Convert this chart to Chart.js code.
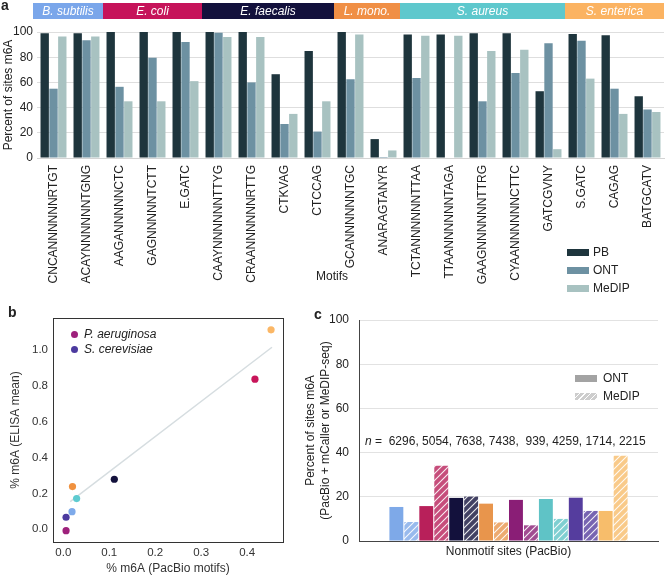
<!DOCTYPE html>
<html>
<head>
<meta charset="utf-8">
<script src="https://cdn.jsdelivr.net/npm/chart.js@4.4.1/dist/chart.umd.min.js"></script>
<style>
  body { margin: 0; width: 668px; height: 576px; background: #fff; position: relative; overflow: hidden;
         font-family: "Liberation Sans", Arial, sans-serif; color: #222; }
  canvas { position: absolute; }
  .txt { position: absolute; font-size: 12px; white-space: pre; line-height: 14px; }
  .panel { position: absolute; font-weight: bold; font-size: 14px; }
  .box { position: absolute; width: 22px; height: 7px; }
</style>
</head>
<body>
<canvas id="chartA" width="668" height="300" style="left:0;top:0"></canvas>
<canvas id="chartB" width="300" height="276" style="left:0;top:300px"></canvas>
<canvas id="chartC" width="368" height="276" style="left:300px;top:300px"></canvas>

<div class="panel" style="left:1px;top:-3px">a</div>
<div class="panel" style="left:8px;top:304px">b</div>
<div class="panel" style="left:314px;top:306px">c</div>
<div class="txt" style="left:316px;top:269px">Motifs</div>

<div id="legendA"></div>
<div id="legendB"></div>
<div id="legendC"></div>
<div id="nText" class="txt" style="left:365px;top:434px"></div>

<script>
// ---- panel a: motif methylation ----
const motifs = [
  "CNCANNNNNNRTGT", "ACAYNNNNNNTGNG", "AAGANNNNNCTC", "GAGNNNNNTCTT", "E.GATC",
  "CAAYNNNNNNTTYG", "CRAANNNNNNRTTG", "CTKVAG", "CTCCAG", "GCANNNNNNTGC",
  "ANARAGTANYR", "TCTANNNNNNTTAA", "TTAANNNNNNTAGA", "GAAGNNNNNNTTRG", "CYAANNNNNNCTTC",
  "GATCGVNY", "S.GATC", "CAGAG", "BATGCATV"
];
const pbValues =    [99, 99, 100, 100, 100, 100, 100, 66.5, 85, 100, 15, 98, 98, 99, 99, 53, 98.5, 97.5, 49];
const ontValues =   [55, 93.5, 56.5, 79.5, 92, 99.5, 60, 27, 21, 62.5, 0.8, 63.5, 0, 45, 67.5, 91, 93, 55, 38.5];
const medipValues = [96.5, 96.5, 45, 45, 61, 96, 96, 35, 45, 98, 6, 97, 97, 85, 86, 7, 63, 35, 36.5];
const bandNames = ["B. subtilis", "E. coli", "E. faecalis", "L. mono.", "S. aureus", "S. enterica"];
const bandSizes = [2, 3, 4, 2, 5, 3];
const bandColors = ["#7aa6ea", "#c6135a", "#13113c", "#f08f45", "#5ec8cd", "#fbb362"];
const methodColors = ["#1e353d", "#6d91a2", "#a8c2c1"];

// ---- panel b: ELISA vs PacBio ----
const speciesB = ["S. enterica", "E. coli", "E. faecalis", "L. mono.", "S. aureus", "B. subtilis", "S. cerevisiae", "P. aeruginosa"];
const pacbioX = [0.452, 0.417, 0.111, 0.020, 0.029, 0.019, 0.006, 0.006];
const elisaY = [1.112, 0.837, 0.279, 0.238, 0.171, 0.098, 0.067, -0.008];
const colorsB = ["#fbb766", "#c8155a", "#13113c", "#f0913f", "#5ecbd0", "#7eaaea", "#4c3a9f", "#9e217c"];
const fitX = [0.015, 0.454];
const fitY = [0.154, 1.015];

// ---- panel c: nonmotif sites ----
const speciesC = ["B. subtilis", "E. coli", "E. faecalis", "L. mono.", "P. aeruginosa", "S. aureus", "S. cerevisiae", "S. enterica"];
const ontC = [15.4, 15.8, 19.5, 16.9, 18.6, 19.0, 19.6, 13.6];
const medipC = [8.6, 34.0, 20.1, 8.4, 7.1, 10.0, 13.6, 38.6];
const colorsC = ["#7ea9e8", "#b8205a", "#13113c", "#e8954c", "#8a1e76", "#5fc3c6", "#553d9e", "#f7bd6b"];
const nCounts = [6296, 5054, 7638, 7438, 939, 4259, 1714, 2215];

Chart.defaults.font.family = "'Liberation Sans', Arial, sans-serif";
Chart.defaults.font.size = 12;
Chart.defaults.color = "#222";
Chart.defaults.animation = false;

// species bands above panel a
const bandPlugin = {
  id: "bands",
  afterDraw(chart) {
    const x = chart.scales.x;
    const ctx = chart.ctx;
    const step = x.width / motifs.length;
    let start = 0;
    ctx.save();
    bandNames.forEach((name, i) => {
      let left = x.getPixelForValue(start) - step / 2;
      const right = x.getPixelForValue(start + bandSizes[i] - 1) + step / 2;
      if (i === 0) left -= 4;
      ctx.fillStyle = bandColors[i];
      ctx.fillRect(left, 3, right - left, 16);
      ctx.fillStyle = "#fff";
      ctx.font = "italic 12px 'Liberation Sans', Arial";
      ctx.textAlign = "center";
      ctx.textBaseline = "middle";
      ctx.fillText(name, (left + right) / 2, 11.5);
      start += bandSizes[i];
    });
    ctx.restore();
  }
};

new Chart(document.getElementById("chartA"), {
  type: "bar",
  data: {
    labels: motifs,
    datasets: [
      { label: "PB", data: pbValues, backgroundColor: methodColors[0] },
      { label: "ONT", data: ontValues, backgroundColor: methodColors[1] },
      { label: "MeDIP", data: medipValues, backgroundColor: methodColors[2] }
    ]
  },
  options: {
    responsive: false,
    layout: { padding: { top: 32, right: 4, left: 0, bottom: 0 } },
    datasets: { bar: { categoryPercentage: 0.8, barPercentage: 0.95 } },
    plugins: { legend: { display: false }, tooltip: { enabled: false } },
    scales: {
      x: {
        grid: { display: false, drawTicks: false },
        border: { color: "#d4d4d4" },
        ticks: { minRotation: 90, maxRotation: 90, padding: 7, autoSkip: false, font: { size: 12 } },
        afterFit(axis) { axis.height = 142; axis.paddingLeft = 0; axis.paddingRight = 0; }
      },
      y: {
        min: 0, max: 100,
        ticks: { stepSize: 20, padding: 4, font: { size: 12 } },
        grid: { color: "#dedede", drawTicks: false },
        border: { display: false },
        title: { display: true, text: "Percent of sites m6A", padding: { top: 1, bottom: 0 }, font: { size: 12 } },
        afterFit(axis) { axis.width = 37; }
      }
    }
  },
  plugins: [bandPlugin]
});

// frame around panel b
const framePlugin = {
  id: "frame",
  afterDraw(chart) {
    const a = chart.chartArea;
    const ctx = chart.ctx;
    ctx.save();
    ctx.strokeStyle = "#333";
    ctx.lineWidth = 1;
    ctx.strokeRect(Math.round(a.left) + 0.5, Math.round(a.top) + 0.5, Math.round(a.right - a.left), Math.round(a.bottom - a.top));
    ctx.restore();
  }
};

new Chart(document.getElementById("chartB"), {
  type: "scatter",
  data: {
    datasets: [
      {
        label: "species",
        data: pacbioX.map((x, i) => ({ x, y: elisaY[i] })),
        pointBackgroundColor: colorsB,
        pointBorderWidth: 0,
        pointRadius: 3.6
      },
      {
        label: "fit",
        data: fitX.map((x, i) => ({ x, y: fitY[i] })),
        showLine: true,
        pointRadius: 0,
        borderColor: "#d6dde0",
        borderWidth: 1.5
      }
    ]
  },
  options: {
    responsive: false,
    layout: { padding: { top: 18, right: 17, left: 0, bottom: 0 } },
    plugins: { legend: { display: false }, tooltip: { enabled: false } },
    scales: {
      x: {
        min: -0.0224, max: 0.478,
        ticks: { stepSize: 0.1, includeBounds: false, padding: 4, callback: v => v.toFixed(1), font: { size: 11.5 }, color: "#333" },
        grid: { display: false, drawTicks: false },
        border: { display: false },
        title: { display: true, text: "% m6A (PacBio motifs)", padding: { top: 0, bottom: 0 }, font: { size: 12 }, color: "#333" },
        afterFit(axis) { axis.height = 34; }
      },
      y: {
        min: -0.071, max: 1.178,
        ticks: { stepSize: 0.2, includeBounds: false, padding: 5, callback: v => v.toFixed(1), font: { size: 11.5 }, color: "#333" },
        grid: { display: false, drawTicks: false },
        border: { display: false },
        title: { display: true, text: "% m6A (ELISA mean)", padding: { top: 8, bottom: 0 }, font: { size: 12 }, color: "#333" },
        afterFit(axis) { axis.width = 53; }
      }
    }
  },
  plugins: [framePlugin]
});

// panel c
const ctxC = document.getElementById("chartC").getContext("2d");
function lighten(hex, f) {
  const n = parseInt(hex.slice(1), 16);
  const r = (n >> 16) & 255, g = (n >> 8) & 255, b = n & 255;
  const m = v => Math.round(v + (255 - v) * f);
  return `rgb(${m(r)},${m(g)},${m(b)})`;
}
function hatch(color) {
  const c = document.createElement("canvas");
  c.width = 7; c.height = 7;
  const g = c.getContext("2d");
  g.fillStyle = lighten(color, 0.2);
  g.fillRect(0, 0, 7, 7);
  g.strokeStyle = "rgba(255,255,255,0.9)";
  g.lineWidth = 1.1;
  g.beginPath();
  g.moveTo(-1, 8); g.lineTo(8, -1);
  g.moveTo(-1, 1); g.lineTo(1, -1);
  g.moveTo(6, 8); g.lineTo(8, 6);
  g.stroke();
  return ctxC.createPattern(c, "repeat");
}

const datasetsC = [];
speciesC.forEach((name, i) => {
  datasetsC.push({ label: name + " ONT", data: [ontC[i]], backgroundColor: colorsC[i] });
  datasetsC.push({ label: name + " MeDIP", data: [medipC[i]], backgroundColor: hatch(colorsC[i]) });
});

new Chart(ctxC, {
  type: "bar",
  data: { labels: ["Nonmotif sites (PacBio)"], datasets: datasetsC },
  options: {
    responsive: false,
    layout: { padding: { top: 20, right: 10, left: 0, bottom: 0 } },
    datasets: { bar: { categoryPercentage: 0.8, barPercentage: 0.93 } },
    plugins: { legend: { display: false }, tooltip: { enabled: false } },
    scales: {
      x: {
        grid: { display: false, drawTicks: false },
        border: { color: "#444" },
        ticks: { padding: 3, font: { size: 12 } },
        afterFit(axis) { axis.height = 35; axis.paddingLeft = 0; axis.paddingRight = 0; }
      },
      y: {
        min: 0, max: 100,
        ticks: { stepSize: 20, padding: 10, font: { size: 12 } },
        grid: { color: "#e2e2e2", drawTicks: false },
        border: { color: "#444" },
        title: {
          display: true,
          text: ["Percent of sites m6A", "(PacBio + mCaller or MeDIP-seq)"],
          padding: { top: 2.5, bottom: 0 },
          font: { size: 12, lineHeight: 1.3 }
        },
        afterFit(axis) { axis.width = 59; }
      }
    }
  }
});

// legends
const legendA = document.getElementById("legendA");
["PB", "ONT", "MeDIP"].forEach((name, i) => {
  const y = 249 + i * 18;
  legendA.innerHTML += `<div class="box" style="left:567px;top:${y}px;background:${methodColors[i]}"></div>` +
    `<div class="txt" style="left:593px;top:${y - 4}px">${name}</div>`;
});

const legendB = document.getElementById("legendB");
["P. aeruginosa", "S. cerevisiae"].forEach((name, i) => {
  const color = colorsB[speciesB.indexOf(name)];
  const y = 334 + i * 15;
  legendB.innerHTML += `<div style="position:absolute;left:71px;top:${y - 3.5}px;width:7px;height:7px;border-radius:50%;background:${color}"></div>` +
    `<div class="txt" style="left:84px;top:${y - 7}px;font-style:italic">${name}</div>`;
});

const legendC = document.getElementById("legendC");
legendC.innerHTML =
  `<div class="box" style="left:575px;top:375px;background:#a3a3a3"></div>` +
  `<div class="txt" style="left:603px;top:371px">ONT</div>` +
  `<div class="box" style="left:575px;top:393px;background:repeating-linear-gradient(135deg,#cdcdcd 0 3px,#fff 3px 4px)"></div>` +
  `<div class="txt" style="left:603px;top:389px">MeDIP</div>`;

document.getElementById("nText").innerHTML =
  "<i>n</i> =  " + nCounts.map(v => String(v).padStart(4, " ")).join(", ");
</script>
</body>
</html>
